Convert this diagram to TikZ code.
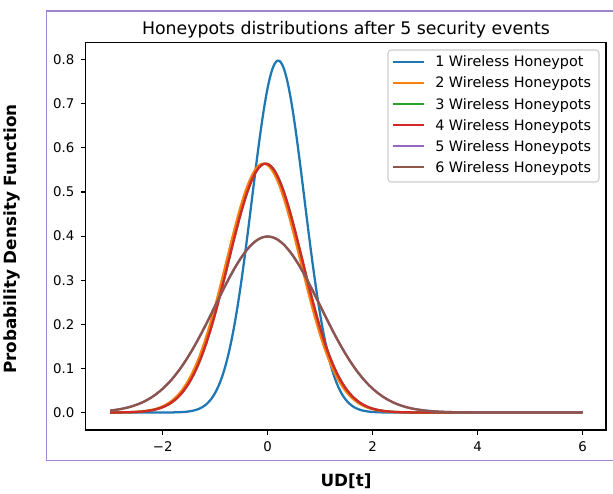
\documentclass[tikz,border=0pt]{standalone}
\usepackage{fontspec}
\setmainfont{DejaVu Sans}
\usepackage{xcolor}
\usetikzlibrary{positioning}

\definecolor{tabblue}{HTML}{1F77B4}
\definecolor{taborange}{HTML}{FF7F0E}
\definecolor{tabgreen}{HTML}{2CA02C}
\definecolor{tabred}{HTML}{D62728}
\definecolor{tabpurple}{HTML}{9467BD}
\definecolor{tabbrown}{HTML}{8C564B}
\definecolor{framepurple}{HTML}{9F86CC}

\begin{document}
\begin{tikzpicture}[x=0.75pt, y=0.75pt,
    curve/.style={line width=1.7pt, line join=round},
    spine/.style={draw=black, line width=0.9pt},
    ticklbl/.style={font=\fontsize{10}{11}\selectfont, inner sep=0pt},
    axlbl/.style={font=\bfseries\fontsize{12.6}{14}\selectfont, inner sep=0pt},
    legtext/.style={font=\fontsize{10.8}{12}\selectfont, anchor=base west, inner sep=0pt}
]
\useasboundingbox (0,0) rectangle (613,493);

% Cadre
\draw[framepurple, line width=1.1pt] (613,482) -- (46.7,482) -- (46.7,32.3) -- (613,32.3);

% Titre et axes
\node[font=\fontsize{13}{15}\selectfont, anchor=base, inner sep=0pt] (title) at (346,458) {Honeypots distributions after 5 security events};
\node[axlbl, rotate=90] (ylabel) at (12.3,254) {Probability Density Function};
\node[axlbl] (xlabel) at (346,12) {UD[t]};
\draw[spine] (85.7,63) rectangle (606,450.3);

% Courbes
\begin{scope}[shift={(200.775pt,60.375pt)}, x=39.375pt, y=330.75pt]
\draw[curve, tabblue] plot[domain=-3:6, samples=300, smooth] (\x, {0.7979*exp(-2*(\x-0.2)*(\x-0.2))});
\draw[curve, taborange] plot[domain=-3:6, samples=300, smooth] (\x, {0.5642*exp(-(\x+0.08)*(\x+0.08))});
\draw[curve, tabgreen] plot[domain=-3:6, samples=300, smooth] (\x, {0.5642*exp(-(\x+0.04)*(\x+0.04))});
\draw[curve, tabred] plot[domain=-3:6, samples=300, smooth] (\x, {0.5642*exp(-(\x+0.04)*(\x+0.04))});
\draw[curve, tabpurple] plot[domain=-3:6, samples=300, smooth] (\x, {0.3989*exp(-0.5*(\x)*(\x))});
\draw[curve, tabbrown] plot[domain=-3:6, samples=300, smooth] (\x, {0.3989*exp(-0.5*(\x)*(\x))});

% Graduations
\foreach \v/\t in {-2/−2, 0/0, 2/2, 4/4, 6/6}
  \draw[spine] (\v,-0.04) -- ++(0,-3.75pt) node[ticklbl, name=xt\v] at (\v,-0.0776) {\t};
\foreach \v [count=\k] in {0.0,0.1,0.2,0.3,0.4,0.5,0.6,0.7,0.8}
  \draw[spine] (-3.467,\v) -- ++(-3.75pt,0) node[ticklbl, anchor=east, name=yt\k] at (-3.67,\v) {\v};
\end{scope}

% Legende
\draw[rounded corners=2.5pt, draw=black!20, fill=white, fill opacity=0.8, line width=0.8pt] (388,311) rectangle (599,443);
\foreach \c/\t [count=\k] in {tabblue/1 Wireless Honeypot, taborange/2 Wireless Honeypots, tabgreen/3 Wireless Honeypots,
    tabred/4 Wireless Honeypots, tabpurple/5 Wireless Honeypots, tabbrown/6 Wireless Honeypots} {
  \draw[curve, \c] (393,{452.4-21.1*\k}) -- ++(31,0);
  \node[legtext] (leg\k) at (435,{447.2-21.1*\k}) {\t};
}
\end{tikzpicture}
\end{document}
